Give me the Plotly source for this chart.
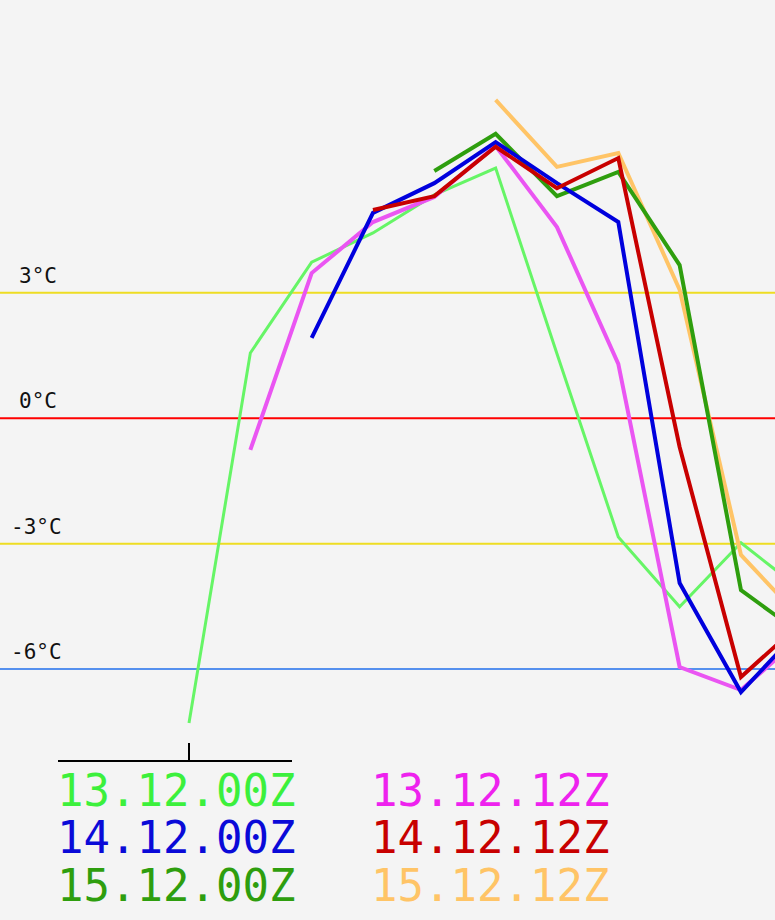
import plotly.graph_objects as go

# time steps (hours after first run point), 6-hourly grid
steps_h = [0, 6, 12, 18, 24, 30, 36, 42, 48, 54, 60]

run_labels = ["13.12.00Z", "14.12.00Z", "15.12.00Z", "13.12.12Z", "14.12.12Z", "15.12.12Z"]

# temperatures (°C) per run, starting at the given step index
t_13_00 = [-7.29, 1.56, 3.73, 4.43, 5.34, 5.98, 1.54, -2.84, -4.51, -2.98, -4.13]
t_13_12 = [-0.76, 3.47, 4.69, 5.29, 6.51, 4.57, 1.30, -5.95, -6.50, -5.21]
t_14_00 = [1.92, 4.91, 5.62, 6.60, 5.62, 4.69, -3.94, -6.55, -4.99]
t_14_12 = [4.98, 5.31, 6.49, 5.50, 6.22, -0.69, -6.19, -4.87]
t_15_00 = [5.91, 6.80, 5.31, 5.89, 3.66, -4.11, -5.18]
t_15_12 = [7.61, 6.01, 6.34, 3.07, -3.27, -4.83]

start_idx = {"13.12.00Z": 0, "13.12.12Z": 1, "14.12.00Z": 2,
             "14.12.12Z": 3, "15.12.00Z": 4, "15.12.12Z": 5}
series = {"13.12.00Z": t_13_00, "13.12.12Z": t_13_12, "14.12.00Z": t_14_00,
          "14.12.12Z": t_14_12, "15.12.00Z": t_15_00, "15.12.12Z": t_15_12}

ref_levels = [3, 0, -3, -6]
ref_labels = ["3°C", "0°C", "-3°C", "-6°C"]

line_style = {
    "13.12.00Z": ("#66f566", 3),
    "13.12.12Z": ("#ea55f2", 4),
    "14.12.00Z": ("#0000dd", 4),
    "14.12.12Z": ("#c80000", 4),
    "15.12.00Z": ("#2e9e0e", 4),
    "15.12.12Z": ("#ffc466", 4),
}
text_color = {
    "13.12.00Z": "#3cf03c",
    "14.12.00Z": "#0a0ad8",
    "15.12.00Z": "#2e9e0e",
    "13.12.12Z": "#ee22ee",
    "14.12.12Z": "#c80000",
    "15.12.12Z": "#ffc466",
}
ref_color = {3: "#eedd22", 0: "#ff0000", -3: "#eedd22", -6: "#5590ee"}

fig = go.Figure()

# reference temperature lines
for lv in ref_levels:
    fig.add_shape(type="line", xref="paper", yref="y", x0=0, x1=1, y0=lv, y1=lv,
                  line=dict(color=ref_color[lv], width=2), layer="below")

draw_order = ["13.12.00Z", "13.12.12Z", "15.12.12Z", "15.12.00Z", "14.12.00Z", "14.12.12Z"]
for name in draw_order:
    vals = series[name]
    s = start_idx[name]
    xs = steps_h[s:s + len(vals)]
    col, w = line_style[name]
    fig.add_trace(go.Scatter(x=xs, y=vals, mode="lines",
                             line=dict(color=col, width=w), showlegend=False,
                             hoverinfo="skip"))

# temperature labels
label_x = [17, 17, 9, 9]
for lv, lab, lx in zip(ref_levels, ref_labels, label_x):
    fig.add_annotation(x=lx / 775, xref="paper", y=lv, yref="y", text=lab,
                       showarrow=False, xanchor="left", yanchor="bottom", yshift=3,
                       font=dict(family="DejaVu Sans Mono", size=21, color="#111111"))

# legend texts
col_x = [55, 369]
row_y = [790, 837, 885]
left = ["13.12.00Z", "14.12.00Z", "15.12.00Z"]
right = ["13.12.12Z", "14.12.12Z", "15.12.12Z"]
for ci, names in enumerate([left, right]):
    for ri, name in enumerate(names):
        fig.add_annotation(x=col_x[ci] / 775, xref="paper", y=1 - row_y[ri] / 920, yref="paper",
                           text=name, showarrow=False, xanchor="left", yanchor="middle",
                           font=dict(family="DejaVu Sans Mono", size=44, color=text_color[name]))

# small time axis under the chart
fig.add_shape(type="line", xref="paper", yref="paper", x0=58 / 775, x1=292 / 775,
              y0=1 - 761 / 920, y1=1 - 761 / 920, line=dict(color="black", width=2))
fig.add_shape(type="line", xref="x", yref="paper", x0=steps_h[0], x1=steps_h[0],
              y0=1 - 761 / 920, y1=1 - 743 / 920, line=dict(color="black", width=2))

fig.update_layout(
    width=775, height=920,
    margin=dict(l=0, r=0, t=0, b=0),
    paper_bgcolor="#f4f4f4", plot_bgcolor="#f4f4f4",
    xaxis=dict(range=[-18.49, 57.33], visible=False, showgrid=False, zeroline=False),
    yaxis=dict(range=[-12, 10], visible=False, showgrid=False, zeroline=False),
)

fig.write_html("out.html", config={"displayModeBar": False},
               post_script="document.body.style.margin='0';document.body.style.background='#f4f4f4';")
